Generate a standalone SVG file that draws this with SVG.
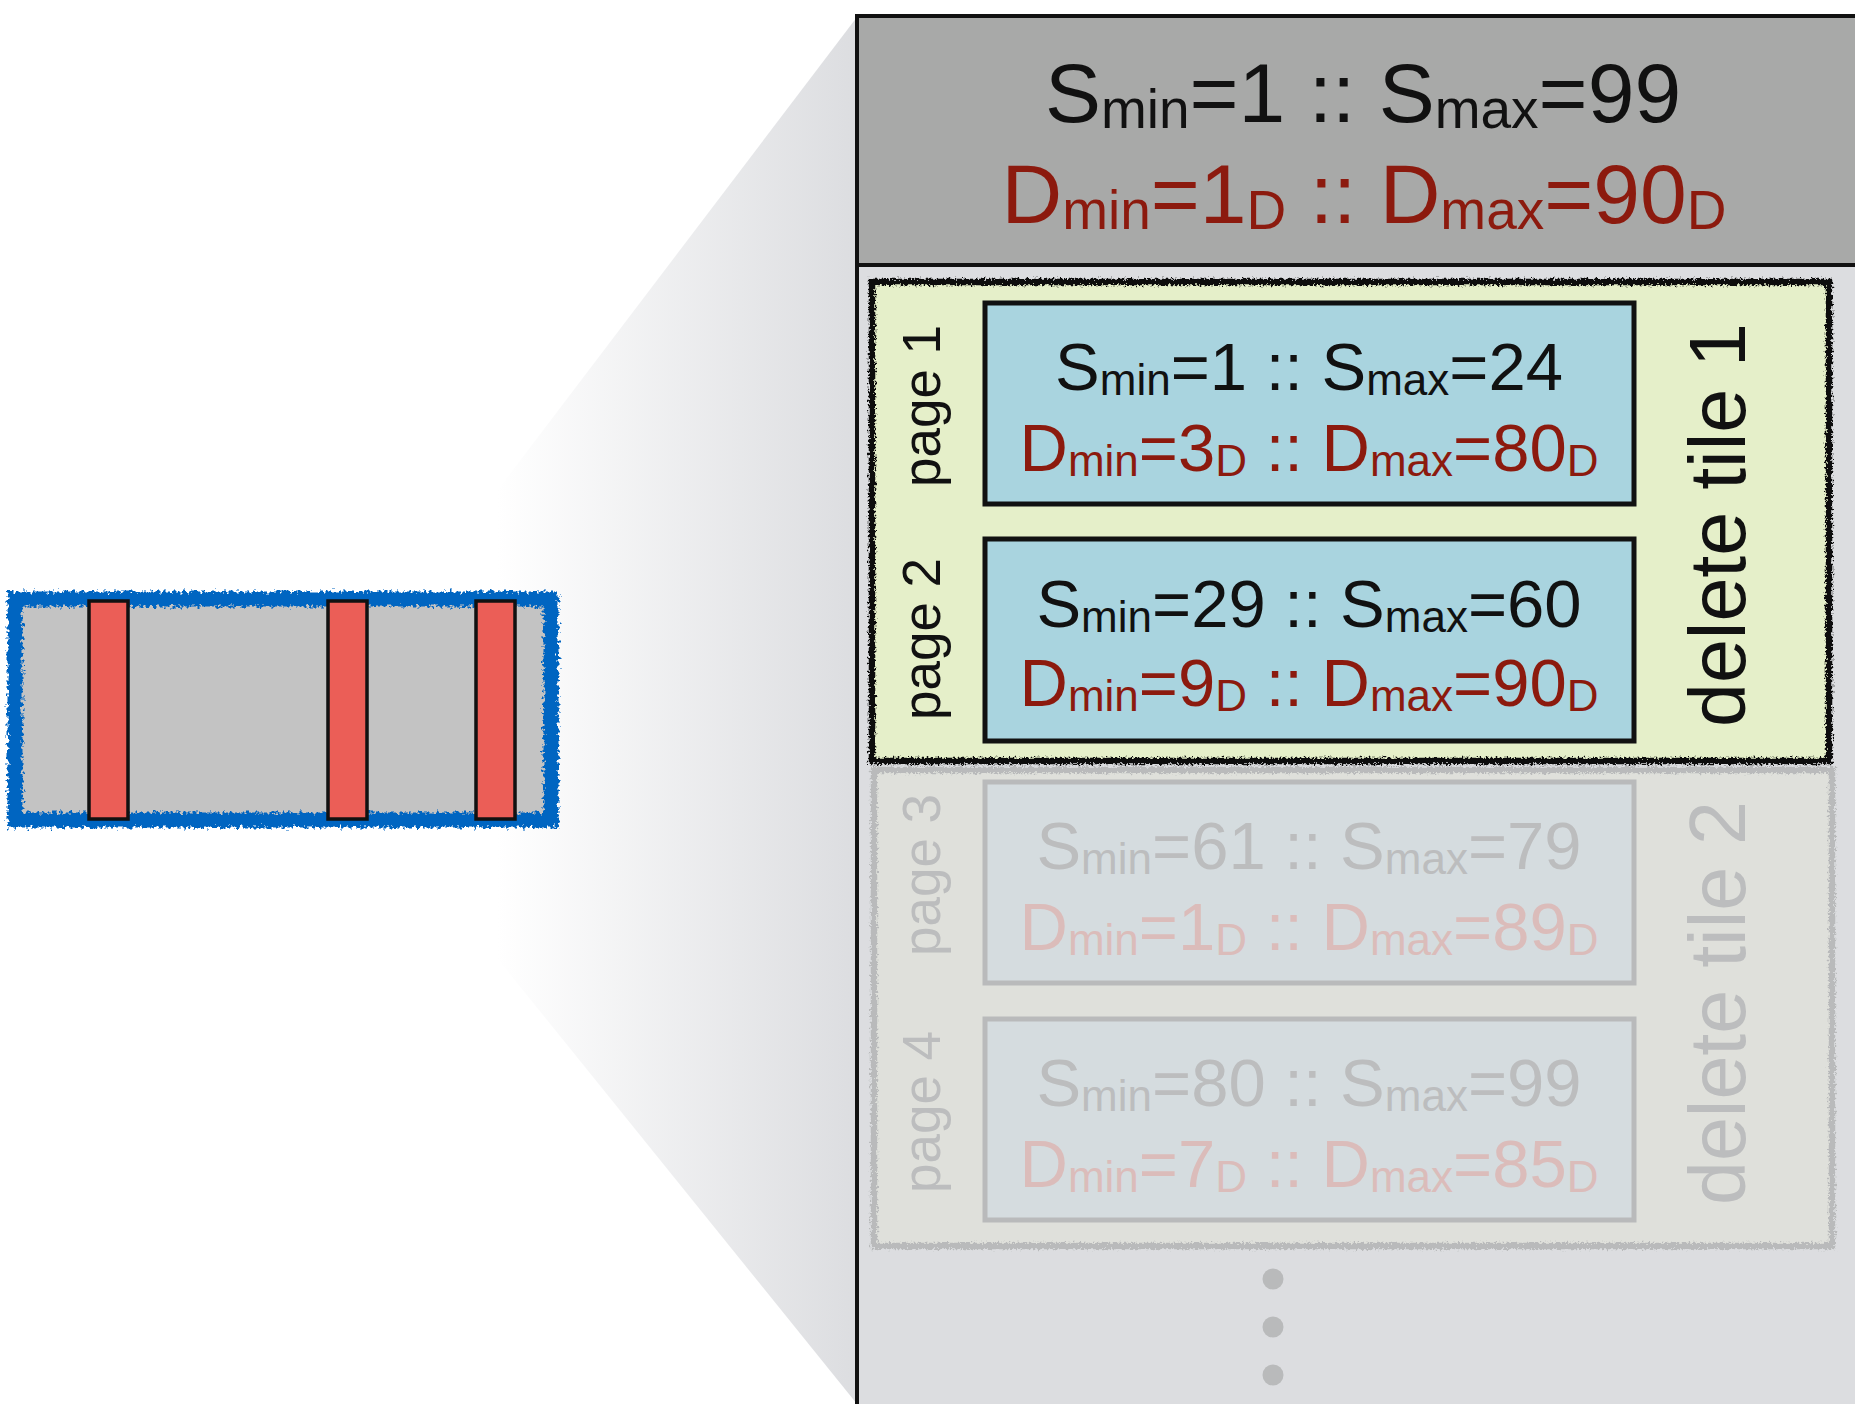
<svg xmlns="http://www.w3.org/2000/svg" width="1855" height="1404" viewBox="0 0 1855 1404">
<style>
.t{font-family:"Liberation Sans",Arial,sans-serif;text-anchor:middle}
.blk{fill:#111}
.red{fill:#8c1a0e}
.fs{fill:#bcbdbe}
.fd{fill:#dbbcba}
.hd{font-size:84px}
.pg{font-size:67px}
.lbl{font-size:53px}
.big{font-size:79px}
.page{fill:#a9d4df;stroke:#111;stroke-width:5}
.pagef{fill:#d5dcdf;stroke:#b9babb;stroke-width:5}
.bar{fill:#eb5e57;stroke:#111;stroke-width:3.5}
</style>
<defs>
<linearGradient id="fade" x1="497" y1="0" x2="857" y2="0" gradientUnits="userSpaceOnUse">
<stop offset="0" stop-color="#ffffff"/>
<stop offset="1" stop-color="#dcdde0"/>
</linearGradient>
<filter id="rough" x="-3%" y="-3%" width="106%" height="106%">
<feTurbulence type="fractalNoise" baseFrequency="0.45" numOctaves="2" seed="4"/>
<feDisplacementMap in="SourceGraphic" scale="7" xChannelSelector="R" yChannelSelector="G"/>
</filter>
<filter id="rough2" x="-3%" y="-5%" width="106%" height="110%">
<feTurbulence type="fractalNoise" baseFrequency="0.3" numOctaves="2" seed="7"/>
<feDisplacementMap in="SourceGraphic" scale="10" xChannelSelector="R" yChannelSelector="G"/>
</filter>
</defs>
<rect width="1855" height="1404" fill="#ffffff"/>

<g id="zoom-shade">
<polygon points="497,491 857,17 857,1404 497,958" fill="url(#fade)"/>
</g>

<g id="small-run">
<rect x="15" y="599" width="536" height="221" fill="#c3c3c3"/>
<rect x="15" y="599" width="536" height="221" fill="none" stroke="#0565c1" stroke-width="15" filter="url(#rough2)"/>
<rect class="bar" x="89" y="601" width="39" height="218"/>
<rect class="bar" x="328" y="601" width="39" height="218"/>
<rect class="bar" x="476" y="601" width="39" height="218"/>
</g>

<g id="file-panel">
<rect x="857" y="16" width="1010" height="1400" fill="#dcdde0" stroke="#111" stroke-width="4"/>
<rect x="859" y="18" width="1000" height="246" fill="#a8a9a8"/>
<line x1="857" y1="265" x2="1855" y2="265" stroke="#111" stroke-width="4"/>
<text class="t hd blk" x="1363" y="122">S<tspan font-size="55" dy="6">min</tspan><tspan dy="-6">=1 :: S</tspan><tspan font-size="55" dy="6">max</tspan><tspan dy="-6">=99</tspan></text>
<text class="t hd red" x="1364" y="223">D<tspan font-size="55" dy="6">min</tspan><tspan dy="-6">=1</tspan><tspan font-size="55" dy="6">D</tspan><tspan dy="-6"> :: D</tspan><tspan font-size="55" dy="6">max</tspan><tspan dy="-6">=90</tspan><tspan font-size="55" dy="6">D</tspan></text>
</g>

<g id="tile1">
<rect x="872" y="282" width="957" height="479" fill="#e5efc9"/>
<rect x="872" y="282" width="957" height="479" fill="none" stroke="#111" stroke-width="6.5" filter="url(#rough)"/>
<text class="t big blk" transform="translate(1745,525) rotate(-90)">delete tile 1</text>
</g>

<g id="page1">
<rect class="page" x="985" y="303" width="649" height="201"/>
<text class="t lbl blk" transform="translate(940,406) rotate(-90)">page 1</text>
<text class="t pg blk" x="1309" y="390">S<tspan font-size="44" dy="5">min</tspan><tspan dy="-5">=1 :: S</tspan><tspan font-size="44" dy="5">max</tspan><tspan dy="-5">=24</tspan></text>
<text class="t pg red" x="1309" y="471">D<tspan font-size="44" dy="5">min</tspan><tspan dy="-5">=3</tspan><tspan font-size="44" dy="5">D</tspan><tspan dy="-5"> :: D</tspan><tspan font-size="44" dy="5">max</tspan><tspan dy="-5">=80</tspan><tspan font-size="44" dy="5">D</tspan></text>
</g>

<g id="page2">
<rect class="page" x="985" y="539" width="649" height="202"/>
<text class="t lbl blk" transform="translate(940,639) rotate(-90)">page 2</text>
<text class="t pg blk" x="1309" y="627">S<tspan font-size="44" dy="5">min</tspan><tspan dy="-5">=29 :: S</tspan><tspan font-size="44" dy="5">max</tspan><tspan dy="-5">=60</tspan></text>
<text class="t pg red" x="1309" y="706">D<tspan font-size="44" dy="5">min</tspan><tspan dy="-5">=9</tspan><tspan font-size="44" dy="5">D</tspan><tspan dy="-5"> :: D</tspan><tspan font-size="44" dy="5">max</tspan><tspan dy="-5">=90</tspan><tspan font-size="44" dy="5">D</tspan></text>
</g>

<g id="tile2">
<rect x="874" y="770" width="958" height="476" fill="#dfe0db"/>
<rect x="874" y="770" width="958" height="476" fill="none" stroke="#b9babb" stroke-width="6.5" filter="url(#rough)"/>
<text class="t big fs" transform="translate(1745,1003) rotate(-90)">delete tile 2</text>
</g>

<g id="page3">
<rect class="pagef" x="985" y="782" width="649" height="201"/>
<text class="t lbl fs" transform="translate(940,875) rotate(-90)">page 3</text>
<text class="t pg fs" x="1309" y="869">S<tspan font-size="44" dy="5">min</tspan><tspan dy="-5">=61 :: S</tspan><tspan font-size="44" dy="5">max</tspan><tspan dy="-5">=79</tspan></text>
<text class="t pg fd" x="1309" y="950">D<tspan font-size="44" dy="5">min</tspan><tspan dy="-5">=1</tspan><tspan font-size="44" dy="5">D</tspan><tspan dy="-5"> :: D</tspan><tspan font-size="44" dy="5">max</tspan><tspan dy="-5">=89</tspan><tspan font-size="44" dy="5">D</tspan></text>
</g>

<g id="page4">
<rect class="pagef" x="985" y="1019" width="649" height="201"/>
<text class="t lbl fs" transform="translate(940,1112) rotate(-90)">page 4</text>
<text class="t pg fs" x="1309" y="1106">S<tspan font-size="44" dy="5">min</tspan><tspan dy="-5">=80 :: S</tspan><tspan font-size="44" dy="5">max</tspan><tspan dy="-5">=99</tspan></text>
<text class="t pg fd" x="1309" y="1187">D<tspan font-size="44" dy="5">min</tspan><tspan dy="-5">=7</tspan><tspan font-size="44" dy="5">D</tspan><tspan dy="-5"> :: D</tspan><tspan font-size="44" dy="5">max</tspan><tspan dy="-5">=85</tspan><tspan font-size="44" dy="5">D</tspan></text>
</g>

<g id="ellipsis" fill="#b9babb">
<circle cx="1273" cy="1279" r="10.5"/>
<circle cx="1273" cy="1327" r="10.5"/>
<circle cx="1273" cy="1375" r="10.5"/>
</g>
</svg>
